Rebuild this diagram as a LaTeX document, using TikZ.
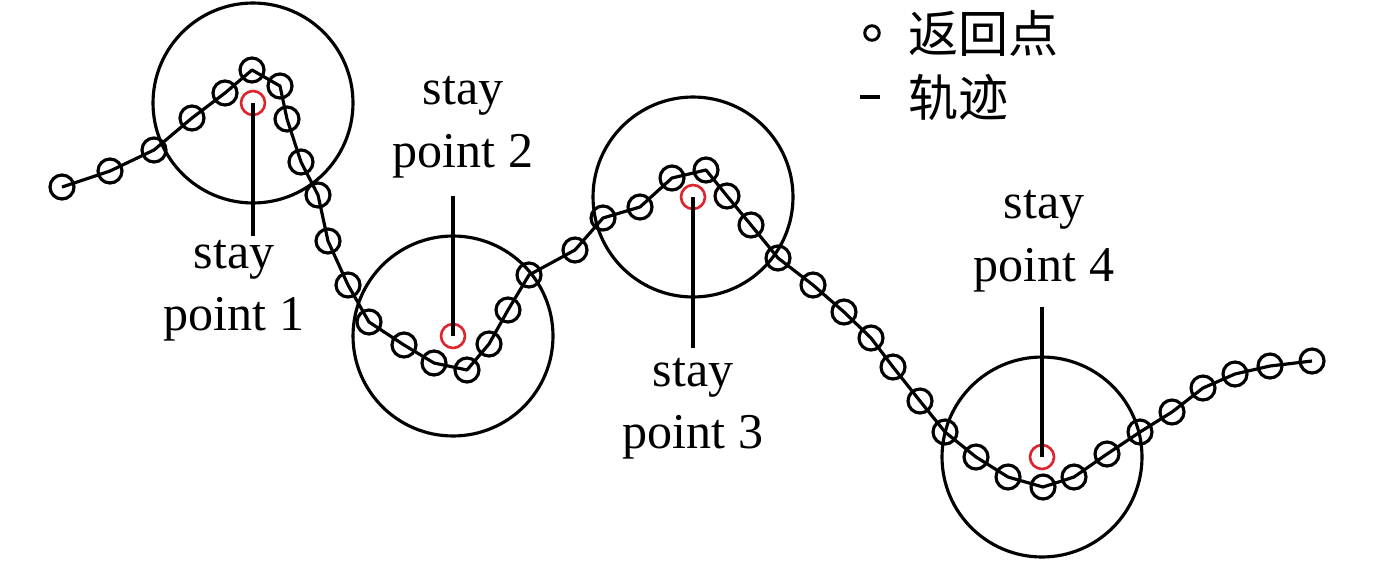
\documentclass[tikz,border=0pt]{standalone}
\usepackage{fontspec}
\setmainfont{Liberation Serif}
\newfontfamily\cjk{Noto Sans CJK SC}
\definecolor{stayred}{RGB}{222,36,44}
\begin{document}
\begin{tikzpicture}[x=0.02cm, y=-0.02cm,
   pt/.style={circle, draw, line width=1.8pt, inner sep=0pt, minimum size=0.48cm},
   redpt/.style={pt, draw=stayred, line width=1.5pt},
   zone/.style={circle, draw, line width=1.8pt, inner sep=0pt, minimum size=4cm},
   lbl/.style={align=center, inner sep=2pt, font=\fontsize{28.5}{35.8}\selectfont}]
   \useasboundingbox (0,0) rectangle (1378,561);
   % returned points
   \foreach \x/\y [count=\i] in
     {62/187, 110/171, 154/150, 192/118, 225/93, 252/70, 280/86, 287/119,
      301/162, 318/195, 328/241, 348/285, 369/322, 404/345, 434/363, 467/370,
      489/344, 508/310, 529/275, 575/250, 603/218, 640/207, 672/178, 706/170,
      727/196, 751/225, 778/258, 813/285, 844/312, 871/338, 893/367, 920/401,
      945/432, 976/457, 1008/477, 1043/487, 1074/477, 1107/454, 1140/432,
      1172/412, 1203/388, 1235/374, 1270/366, 1312/361}
     \node[pt] (p\i) at (\x,\y) {};
   \draw[line width=1.8pt, line join=round] (p1.center) \foreach \i in {2,...,44} { -- (p\i.center) };
   % stay points
   \foreach \x/\y/\lx/\ly/\a/\g [count=\i] in
     {253/103/234/236/north/0pt,
      453/336/463/182/south/8pt,
      693/197/693/354/north/3.5pt,
      1042/457/1044/296/south/6pt}
   {
     \node[zone] (s\i) at (\x,\y) {};
     \node[redpt] (r\i) at (\x,\y) {};
     \node[lbl, anchor=\a] (l\i) at (\lx,\ly) {stay\\point \i};
     \draw[line width=1.8pt, shorten >=\g] (r\i.center) -- (r\i.center |- l\i.\a);
   }
   % legend
   \node[circle, draw, line width=1.7pt, inner sep=0pt, minimum size=0.29cm] (lgpt) at (872,33) {};
   \node[anchor=west, inner sep=0pt, font=\cjk\fontsize{28.5}{34}\selectfont] (lgptt) at (908,33) {返回点};
   \coordinate (lgl) at (860,97);
   \coordinate (lgr) at (880,97);
   \draw[line width=1.8pt] (lgl) -- (lgr);
   \node[anchor=west, inner sep=0pt, font=\cjk\fontsize{28.5}{34}\selectfont] (lglt) at (908,97) {轨迹};
\end{tikzpicture}
\end{document}
